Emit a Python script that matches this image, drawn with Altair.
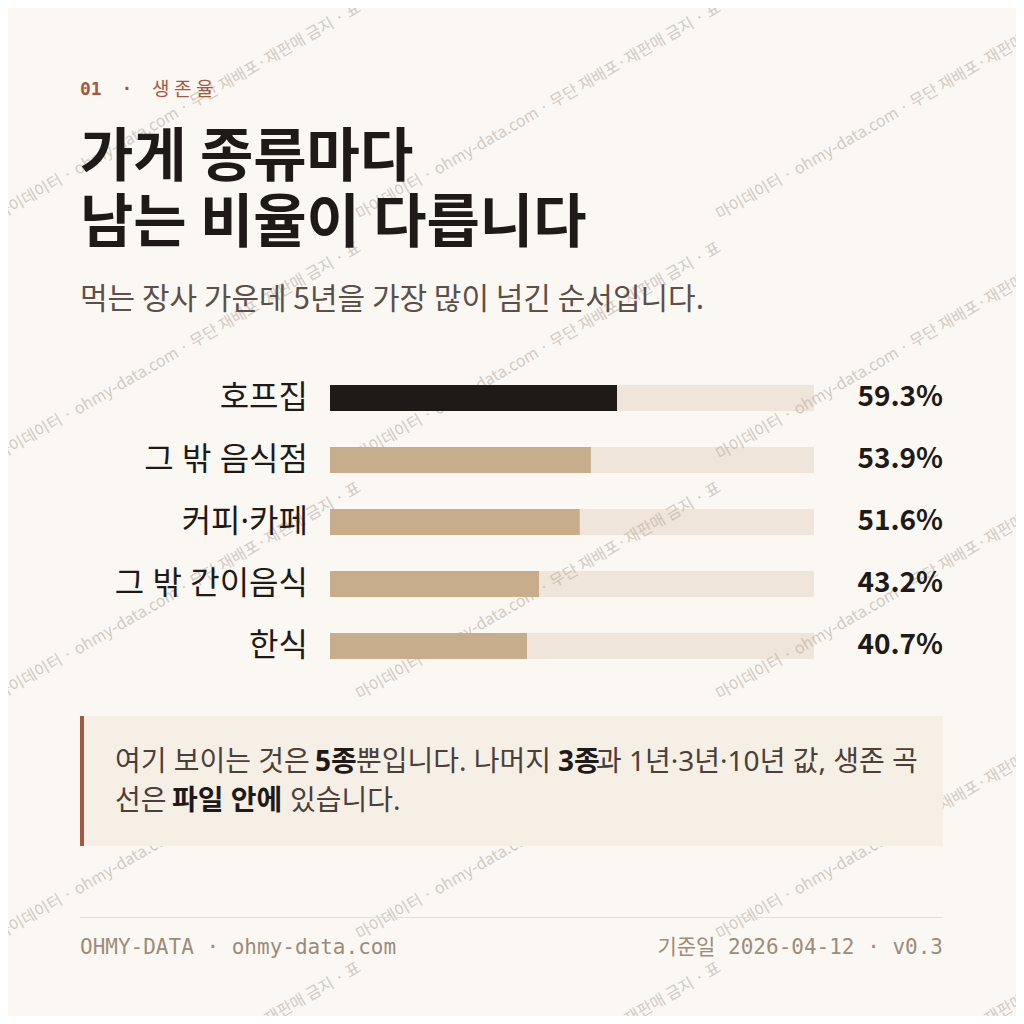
import altair as alt
import pandas as pd

# survival rate by store type (top 5)
categories = ["호프집", "그 밖 음식점", "커피·카페", "그 밖 간이음식", "한식"]
rates = [59.3, 53.9, 51.6, 43.2, 40.7]
highlight = "호프집"

kicker_num = "01"
kicker_word = ["생", "존", "율"]
title_lines = ["가게 종류마다", "남는 비율이 다릅니다"]
subtitle = "먹는 장사 가운데 5년을 가장 많이 넘긴 순서입니다."
note_line1 = ["여기 보이는 것은", "5종", "뿐입니다. 나머지", "3종", "과 1년·3년·10년 값, 생존 곡"]
note_bold1 = [False, True, False, True, False]
note_line2 = ["선은", "파일 안에", "있습니다."]
note_bold2 = [False, True, False]
footer_left = "OHMY-DATA · ohmy-data.com"
footer_right = "기준일 2026-04-12 · v0.3"
watermark = "마이데이터 · ohmy-data.com · 무단 재배포·재판매 금지 · 표"

BG = "#FBF8F3"
INK = "#1F1A17"
TAN = "#C8AD8C"
RUST = "#A5573F"
MUTED = "#9C8C7A"
CJK = "Noto Sans CJK KR"
SANS = "Noto Sans, Noto Sans CJK KR"
MONO = "DejaVu Sans Mono, Noto Sans CJK KR"

# layout (chart pixels; page = chart + 8)
W = H = 1008
note_x1 = [107, 307, 348, 550, 588]
note_x2 = [107, 164, 282]

bars = pd.DataFrame({
    "category": categories,
    "rate": rates,
    "full": [100] * len(rates),
    "label": [f"{r:.1f}%" for r in rates],
})

x_scale = alt.Scale(domain=[0, 100], range=[322, 806], nice=False)
y_enc = alt.Y("category:N", sort=categories, axis=None,
              scale=alt.Scale(domain=categories, range=[359, 669],
                              paddingInner=0, paddingOuter=0))

# tiled watermark starts
wm = pd.DataFrame([
    {"px": 360 * i - 8, "py": 212 + 240 * j, "t": watermark}
    for i in range(3) for j in range(5)
])
px_scale = alt.Scale(domain=[0, W], range=[0, W], nice=False, zero=False)
wm_layer = alt.Chart(wm).mark_text(
    align="left", baseline="alphabetic", angle=330, font=CJK, fontSize=16,
    color="#D2CBC3"
).encode(
    x=alt.X("px:Q", scale=px_scale, axis=None),
    y=alt.Y("py:Q", scale=px_scale, axis=None),
    text="t:N",
)

track = alt.Chart(bars).mark_bar(size=26, color=TAN, opacity=0.24).encode(
    x=alt.X("full:Q", scale=x_scale, axis=None),
    y=y_enc,
)
bar = alt.Chart(bars).mark_bar(size=26).encode(
    x=alt.X("rate:Q", scale=x_scale, axis=None),
    y=y_enc,
    color=alt.condition(alt.datum.category == highlight, alt.value(INK), alt.value(TAN)),
)
cat_text = alt.Chart(bars).mark_text(
    align="right", baseline="middle", font=SANS, fontSize=32, color=INK
).encode(x=alt.value(300), y=y_enc, text="category:N")
val_text = alt.Chart(bars).mark_text(
    align="right", baseline="middle", font=CJK, fontSize=28, fontWeight="bold", color=INK
).encode(x=alt.value(935), y=y_enc, text="label:N")


def txt(text, x, y, size, color, weight="normal", font=SANS, align="left"):
    return alt.Chart(alt.Data(values=[{}])).mark_text(
        text=text, fontSize=size, fontWeight=weight, font=font, color=color,
        align=align, baseline="middle"
    ).encode(x=alt.value(x), y=alt.value(y))


def box(x, x2, y, y2, color):
    return alt.Chart(alt.Data(values=[{}])).mark_rect(color=color).encode(
        x=alt.value(x), x2=alt.value(x2), y=alt.value(y), y2=alt.value(y2))


layers = [wm_layer, track, bar, cat_text, val_text]

# header
layers.append(txt(kicker_num, 72, 82, 18, RUST, "bold", MONO))
layers.append(txt("·", 119, 82, 18, RUST, "bold", MONO, "center"))
for k, ch in enumerate(kicker_word):
    layers.append(txt(ch, 144 + 22 * k, 82, 19, RUST, font=CJK))
layers.append(txt(title_lines[0], 72, 151, 58, INK, "bold", CJK))
layers.append(txt(title_lines[1], 72, 217, 58, INK, "bold", CJK))
layers.append(txt(subtitle, 72, 292, 30, "#5B5048", font=CJK))

# note box
layers.append(box(72, 935, 708, 838, "#F6EFE6"))
layers.append(box(72, 76, 708, 838, RUST))
for s, b, x in zip(note_line1, note_bold1, note_x1):
    layers.append(txt(s, x, 755, 28, INK if b else "#4A4038", "bold" if b else "normal"))
for s, b, x in zip(note_line2, note_bold2, note_x2):
    layers.append(txt(s, x, 794, 28, INK if b else "#4A4038", "bold" if b else "normal"))

# footer
layers.append(box(72, 935, 909, 910, "#E6DED3"))
layers.append(txt(footer_left, 72, 940, 21, MUTED, font=MONO))
layers.append(txt(footer_right, 935, 940, 21, MUTED, font=MONO, align="right"))

chart = alt.layer(*layers).resolve_scale(
    x="independent", y="independent"
).properties(
    width=W, height=H, padding=0, autosize=alt.AutoSizeParams(type="none")
).configure(background=BG).configure_view(strokeWidth=0)

chart.save("out.html", embed_options={"renderer": "svg", "actions": False})
